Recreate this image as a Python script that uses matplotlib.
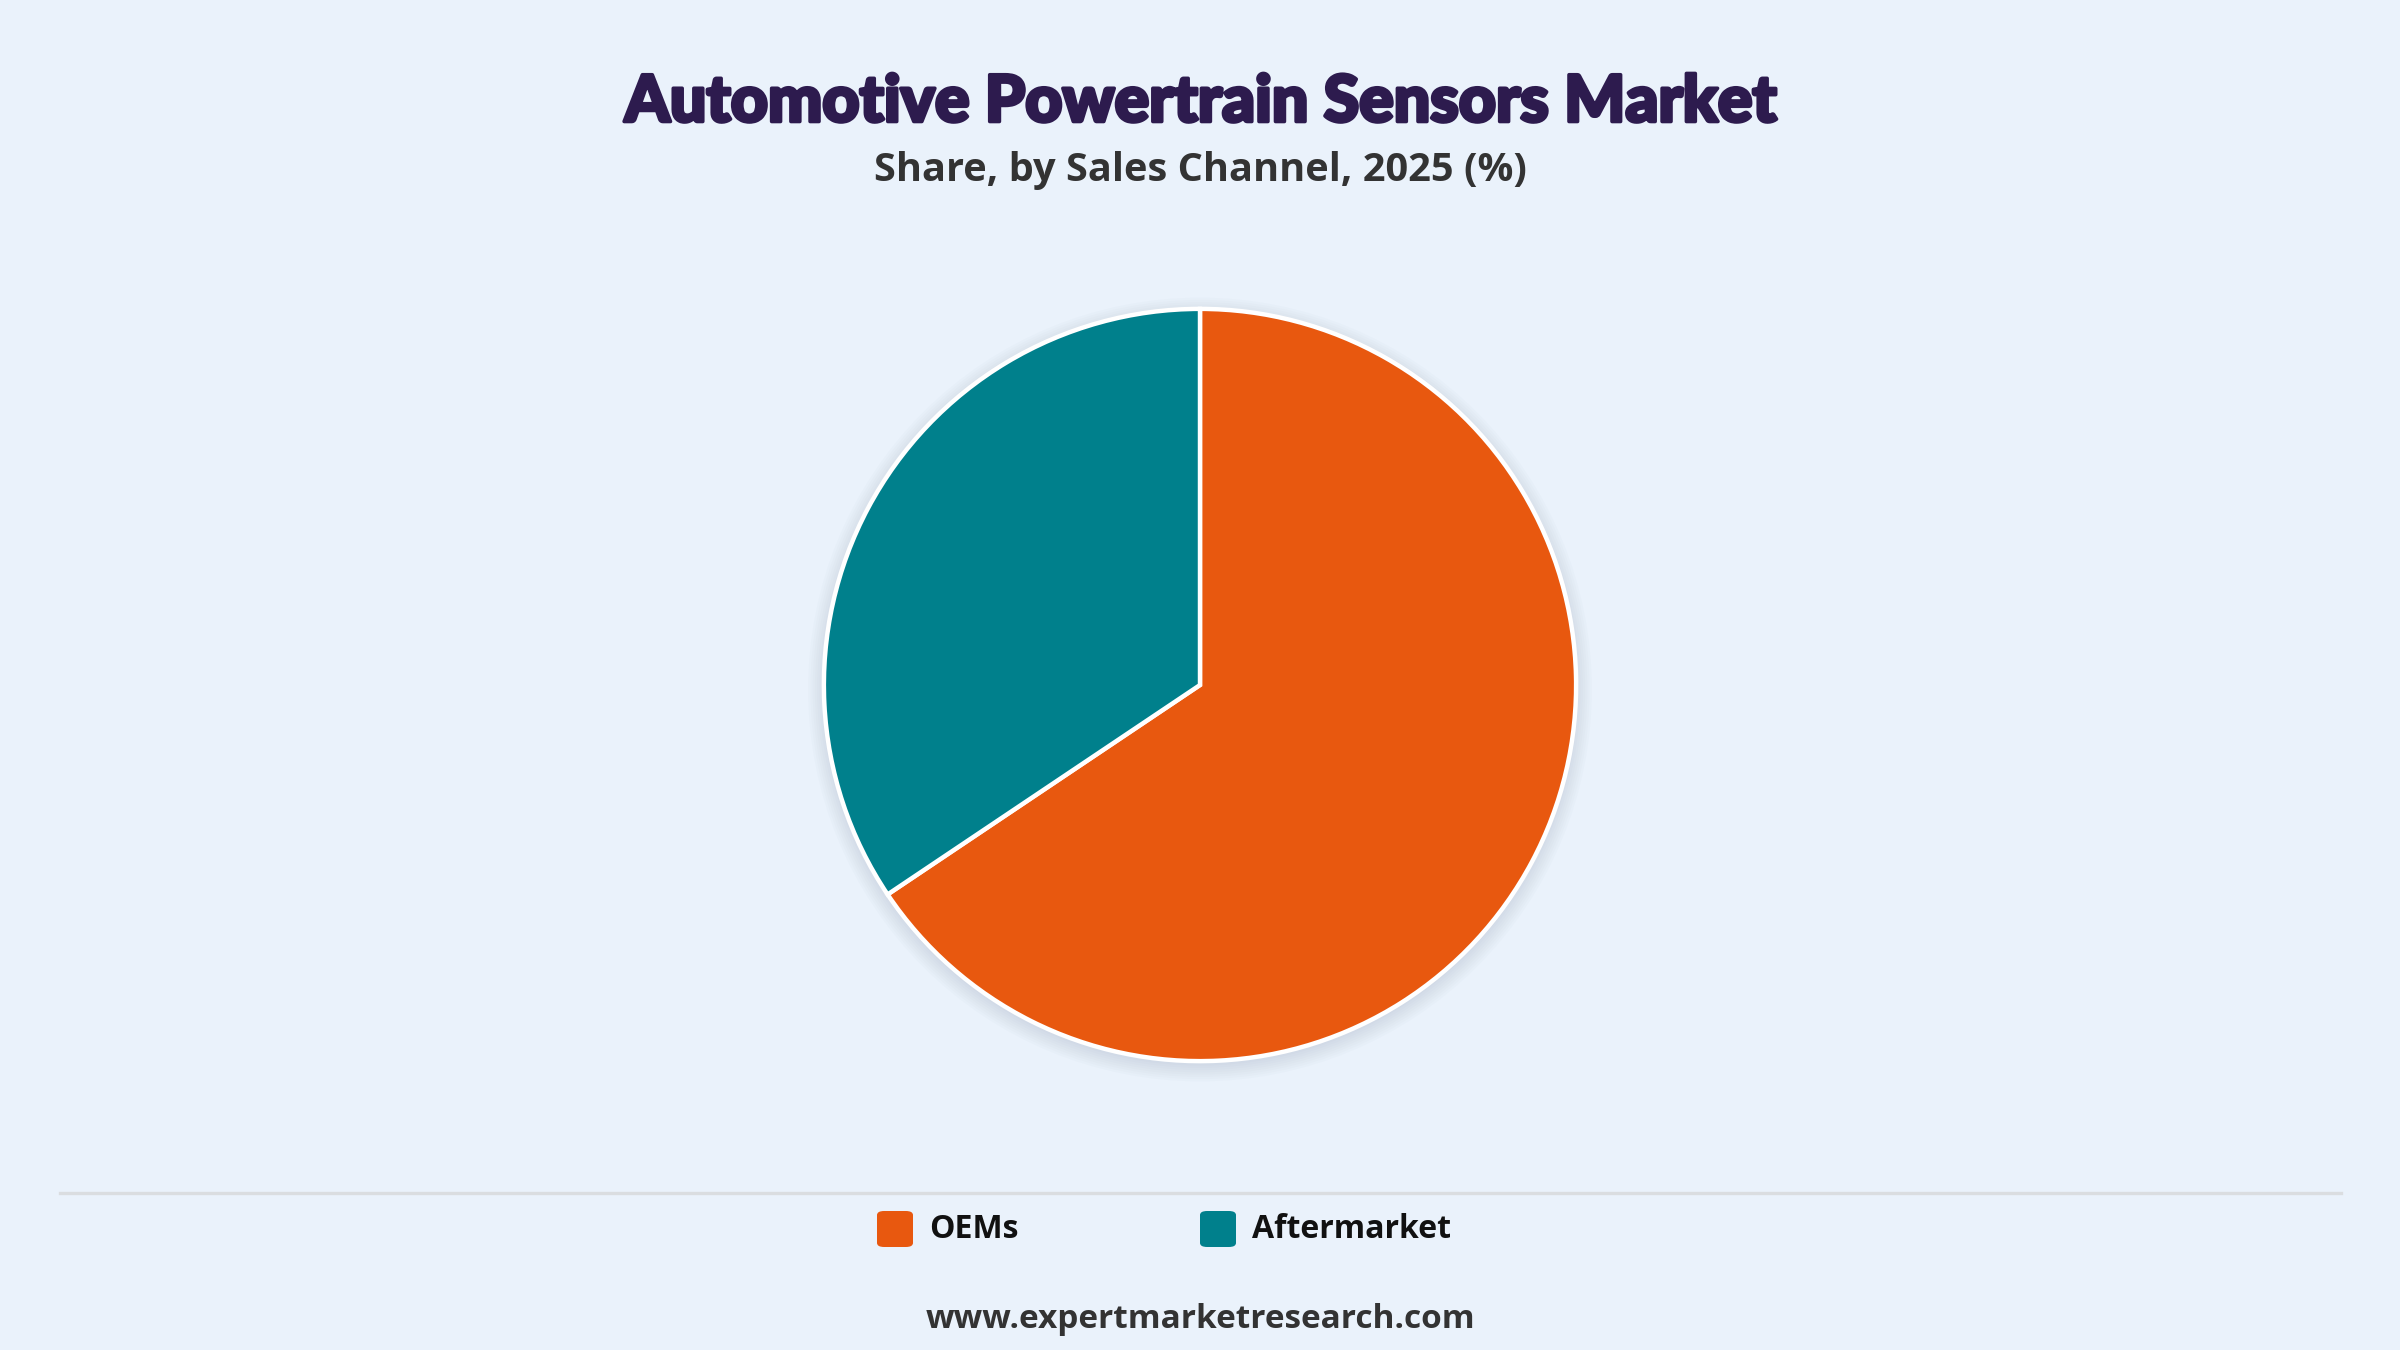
import matplotlib
matplotlib.use("Agg")
import matplotlib.pyplot as plt
import matplotlib.patheffects as pe
from matplotlib.patches import Circle, FancyBboxPatch
from matplotlib.lines import Line2D

# data
channels = ["OEMs", "Aftermarket"]
shares = [65.6, 34.4]
colors = ["#E8580F", "#00808C"]

BG = "#EAF2FB"
W, H = 2400, 1350
DPI = 200

fig = plt.figure(figsize=(W / DPI, H / DPI), dpi=DPI, facecolor=BG)

# --- titles ---
TITLE_C = "#2D1B4E"
fig.text(0.5, 1 - 103 / H, "Automotive Powertrain Sensors Market",
         ha="center", va="center", fontsize=23.2, fontweight=900,
         family="Lato", color=TITLE_C,
         path_effects=[pe.withStroke(linewidth=1.3, foreground=TITLE_C)])
fig.text(0.5, 1 - 170 / H, "Share, by Sales Channel, 2025 (%)",
         ha="center", va="center", fontsize=14.3, fontweight="bold",
         family="Open Sans", color="#333333")

# --- pie ---
cx, cy, R = 1200, 685, 378
ax = fig.add_axes([(cx - R) / W, 1 - (cy + R) / H, 2 * R / W, 2 * R / H])
ax.set_facecolor("none")

# soft shadow under the pie
for i in range(8):
    ax.add_patch(Circle((0.0, -0.012), 1.0 + 0.006 * i, color="#8a9bb0",
                        alpha=0.03, lw=0, zorder=0, clip_on=False))

ax.pie(shares, colors=colors, startangle=90, counterclock=False, radius=1.0,
       wedgeprops=dict(edgecolor="white", linewidth=1.6, zorder=2))
ax.set_xlim(-1.005, 1.005)
ax.set_ylim(-1.005, 1.005)
ax.set_aspect("equal")
ax.axis("off")

# --- separator line ---
fig.add_artist(Line2D([60 / W, 2341 / W], [1 - 1193 / H] * 2,
                      color="#DADDE0", lw=1.2, transform=fig.transFigure))

# --- legend ---
leg_x = [877, 1200]
leg_y = 1229
sq = 36
for x0, name, col in zip(leg_x, channels, colors):
    fig.add_artist(FancyBboxPatch(((x0) / W, 1 - (leg_y + sq / 2) / H),
                                  sq / W, sq / H,
                                  boxstyle="round,pad=0,rounding_size=0.003",
                                  facecolor=col, edgecolor="none",
                                  transform=fig.transFigure))
    fig.text((x0 + sq + 16) / W, 1 - leg_y / H, name, ha="left", va="center",
             fontsize=11.5, fontweight="bold", family="Open Sans",
             color="#111111")

# --- source ---
fig.text(0.5, 1 - 1320 / H, "www.expertmarketresearch.com",
         ha="center", va="center", fontsize=12, fontweight="bold",
         family="Open Sans", color="#333333")

fig.savefig("out.png", dpi=DPI, facecolor=BG)
